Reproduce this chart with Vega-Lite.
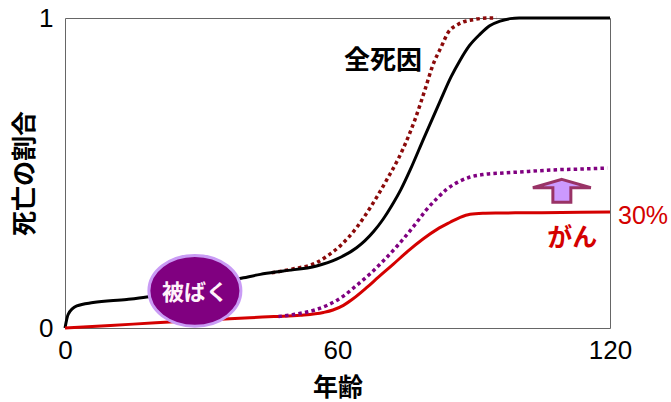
{
  "$schema": "https://vega.github.io/schema/vega-lite/v6.json",
  "autosize": "none",
  "width": 545,
  "height": 310,
  "padding": {"left": 65, "top": 18, "right": 61, "bottom": 74},
  "background": "white",
  "config": {
    "view": {"stroke": "#666666", "strokeWidth": 1},
    "axis": {"domain": false, "ticks": false, "grid": false, "labelFont": "Liberation Sans", "labelFontSize": 26, "labelColor": "#000000", "titleFont": "Noto Sans CJK JP", "titleFontSize": 25, "titleFontWeight": "bold", "titleColor": "#000000", "labelFlush": false}
  },
  "datasets": {
    "curves": [
      {"series": "全死因", "age": 0, "value": 0},
      {"series": "全死因", "age": 0.7, "value": 0.044},
      {"series": "全死因", "age": 2.6, "value": 0.071},
      {"series": "全死因", "age": 6.2, "value": 0.082},
      {"series": "全死因", "age": 13.6, "value": 0.092},
      {"series": "全死因", "age": 18, "value": 0.1},
      {"series": "全死因", "age": 25, "value": 0.12},
      {"series": "全死因", "age": 32, "value": 0.14},
      {"series": "全死因", "age": 39.3, "value": 0.162},
      {"series": "全死因", "age": 43, "value": 0.173},
      {"series": "全死因", "age": 48.1, "value": 0.184},
      {"series": "全死因", "age": 55.4, "value": 0.2},
      {"series": "全死因", "age": 59.8, "value": 0.222},
      {"series": "全死因", "age": 64.2, "value": 0.259},
      {"series": "全死因", "age": 66, "value": 0.281},
      {"series": "全死因", "age": 68, "value": 0.312},
      {"series": "全死因", "age": 70, "value": 0.35},
      {"series": "全死因", "age": 72, "value": 0.396},
      {"series": "全死因", "age": 74, "value": 0.448},
      {"series": "全死因", "age": 76, "value": 0.51},
      {"series": "全死因", "age": 79, "value": 0.612},
      {"series": "全死因", "age": 82.6, "value": 0.732},
      {"series": "全死因", "age": 85, "value": 0.81},
      {"series": "全死因", "age": 87, "value": 0.864},
      {"series": "全死因", "age": 89, "value": 0.91},
      {"series": "全死因", "age": 91.4, "value": 0.948},
      {"series": "全死因", "age": 93.5, "value": 0.975},
      {"series": "全死因", "age": 95.8, "value": 0.99},
      {"series": "全死因", "age": 98, "value": 0.998},
      {"series": "全死因", "age": 100, "value": 1.0},
      {"series": "全死因", "age": 110, "value": 1.0},
      {"series": "全死因", "age": 120, "value": 1.0},
      {"series": "全死因+被ばく", "age": 45.5, "value": 0.178},
      {"series": "全死因+被ばく", "age": 50, "value": 0.19},
      {"series": "全死因+被ばく", "age": 55.4, "value": 0.211},
      {"series": "全死因+被ばく", "age": 58, "value": 0.235},
      {"series": "全死因+被ばく", "age": 60.6, "value": 0.265},
      {"series": "全死因+被ばく", "age": 64.2, "value": 0.324},
      {"series": "全死因+被ばく", "age": 67.2, "value": 0.388},
      {"series": "全死因+被ばく", "age": 70.5, "value": 0.469},
      {"series": "全死因+被ばく", "age": 74.5, "value": 0.58},
      {"series": "全死因+被ばく", "age": 77, "value": 0.67},
      {"series": "全死因+被ばく", "age": 79.4, "value": 0.775},
      {"series": "全死因+被ばく", "age": 80.8, "value": 0.84},
      {"series": "全死因+被ばく", "age": 83.1, "value": 0.915},
      {"series": "全死因+被ばく", "age": 84.1, "value": 0.947},
      {"series": "全死因+被ばく", "age": 86.6, "value": 0.98},
      {"series": "全死因+被ばく", "age": 90, "value": 0.995},
      {"series": "全死因+被ばく", "age": 93.6, "value": 1.0},
      {"series": "全死因+被ばく", "age": 95, "value": 1.0},
      {"series": "がん+被ばく", "age": 47, "value": 0.037},
      {"series": "がん+被ばく", "age": 51, "value": 0.045},
      {"series": "がん+被ばく", "age": 55.4, "value": 0.06},
      {"series": "がん+被ばく", "age": 58, "value": 0.075},
      {"series": "がん+被ばく", "age": 61.3, "value": 0.103},
      {"series": "がん+被ばく", "age": 64, "value": 0.135},
      {"series": "がん+被ばく", "age": 67.2, "value": 0.175},
      {"series": "がん+被ばく", "age": 70, "value": 0.215},
      {"series": "がん+被ばく", "age": 73, "value": 0.262},
      {"series": "がん+被ばく", "age": 75, "value": 0.296},
      {"series": "がん+被ばく", "age": 77.4, "value": 0.34},
      {"series": "がん+被ばく", "age": 79.5, "value": 0.38},
      {"series": "がん+被ばく", "age": 81.9, "value": 0.418},
      {"series": "がん+被ばく", "age": 84, "value": 0.447},
      {"series": "がん+被ばく", "age": 87, "value": 0.474},
      {"series": "がん+被ばく", "age": 89.2, "value": 0.487},
      {"series": "がん+被ばく", "age": 92, "value": 0.495},
      {"series": "がん+被ばく", "age": 96.5, "value": 0.5},
      {"series": "がん+被ばく", "age": 102, "value": 0.505},
      {"series": "がん+被ばく", "age": 107.5, "value": 0.51},
      {"series": "がん+被ばく", "age": 114, "value": 0.513},
      {"series": "がん+被ばく", "age": 119.4, "value": 0.516},
      {"series": "がん", "age": 0, "value": 0},
      {"series": "がん", "age": 10, "value": 0.008},
      {"series": "がん", "age": 20, "value": 0.017},
      {"series": "がん", "age": 30, "value": 0.025},
      {"series": "がん", "age": 40.7, "value": 0.033},
      {"series": "がん", "age": 46, "value": 0.037},
      {"series": "がん", "age": 51.8, "value": 0.041},
      {"series": "がん", "age": 56.9, "value": 0.05},
      {"series": "がん", "age": 59, "value": 0.058},
      {"series": "がん", "age": 61.3, "value": 0.073},
      {"series": "がん", "age": 63.5, "value": 0.095},
      {"series": "がん", "age": 66.4, "value": 0.13},
      {"series": "がん", "age": 69, "value": 0.164},
      {"series": "がん", "age": 72.3, "value": 0.206},
      {"series": "がん", "age": 75.5, "value": 0.248},
      {"series": "がん", "age": 78.9, "value": 0.288},
      {"series": "がん", "age": 82, "value": 0.319},
      {"series": "がん", "age": 84.8, "value": 0.341},
      {"series": "がん", "age": 87, "value": 0.357},
      {"series": "がん", "age": 89.2, "value": 0.367},
      {"series": "がん", "age": 92, "value": 0.37},
      {"series": "がん", "age": 95.8, "value": 0.371},
      {"series": "がん", "age": 105, "value": 0.372},
      {"series": "がん", "age": 120, "value": 0.374}
    ],
    "notes": [
      {"key": "exposure", "label": "被ばく", "age": 28.6, "value": 0.12},
      {"key": "arrow", "label": "", "age": 109.4, "value": 0.442},
      {"key": "all", "label": "全死因", "age": 70.0, "value": 0.861},
      {"key": "cancer", "label": "がん", "age": 111.7, "value": 0.29},
      {"key": "pct", "label": "30%", "age": 120, "value": 0.361}
    ]
  },
  "encoding": {
    "x": {"field": "age", "type": "quantitative", "scale": {"domain": [0, 120], "nice": false, "zero": false}, "axis": {"values": [0, 60, 120], "format": "d", "title": "年齢", "labelPadding": 9, "titlePadding": 12}},
    "y": {"field": "value", "type": "quantitative", "scale": {"domain": [0, 1], "nice": false}, "axis": {"values": [0, 1], "format": "d", "title": "死亡の割合", "labelPadding": 12, "titlePadding": 1}}
  },
  "layer": [
    {
      "data": {"name": "curves"},
      "transform": [{"filter": "datum.series === '全死因+被ばく'"}],
      "mark": {"type": "line", "interpolate": "monotone", "color": "#8b0a0a", "strokeWidth": 3.5, "strokeDash": [3.5, 3.2], "strokeCap": "butt"}
    },
    {
      "data": {"name": "curves"},
      "transform": [{"filter": "datum.series === '全死因'"}],
      "mark": {"type": "line", "interpolate": "monotone", "color": "#000000", "strokeWidth": 3}
    },
    {
      "data": {"name": "curves"},
      "transform": [{"filter": "datum.series === 'がん'"}],
      "mark": {"type": "line", "interpolate": "monotone", "color": "#d40000", "strokeWidth": 3}
    },
    {
      "data": {"name": "curves"},
      "transform": [{"filter": "datum.series === 'がん+被ばく'"}],
      "mark": {"type": "line", "interpolate": "monotone", "color": "#800080", "strokeWidth": 3.5, "strokeDash": [3.5, 3.2], "strokeCap": "butt"}
    },
    {
      "data": {"name": "notes"},
      "transform": [{"filter": "datum.key === 'exposure'"}],
      "mark": {"type": "point", "shape": "M-1,0A1,0.77,0,1,1,1,0A1,0.77,0,1,1,-1,0Z", "size": 8464, "filled": true, "fill": "#800080", "stroke": "#c99bf5", "strokeWidth": 3, "opacity": 1}
    },
    {
      "data": {"name": "notes"},
      "transform": [{"filter": "datum.key === 'exposure'"}],
      "mark": {"type": "text", "font": "Noto Sans CJK JP", "fontWeight": "bold", "fontSize": 22, "color": "#fff2fa", "align": "center", "baseline": "middle", "dy": 2},
      "encoding": {"text": {"field": "label"}}
    },
    {
      "data": {"name": "notes"},
      "transform": [{"filter": "datum.key === 'arrow'"}],
      "mark": {"type": "point", "shape": "M0,-0.4L1,-0.11L0.31,-0.11L0.31,0.39L-0.31,0.39L-0.31,-0.11L-1,-0.11Z", "size": 3364, "filled": true, "fill": "#cc99ff", "stroke": "#993366", "strokeWidth": 3, "opacity": 1}
    },
    {
      "data": {"name": "notes"},
      "transform": [{"filter": "datum.key === 'all'"}],
      "mark": {"type": "text", "font": "Noto Sans CJK JP", "fontWeight": "bold", "fontSize": 26, "color": "#000000", "align": "center", "baseline": "middle"},
      "encoding": {"text": {"field": "label"}}
    },
    {
      "data": {"name": "notes"},
      "transform": [{"filter": "datum.key === 'cancer'"}],
      "mark": {"type": "text", "font": "Noto Sans CJK JP", "fontWeight": "bold", "fontSize": 25, "color": "#d40000", "align": "center", "baseline": "middle"},
      "encoding": {"text": {"field": "label"}}
    },
    {
      "data": {"name": "notes"},
      "transform": [{"filter": "datum.key === 'pct'"}],
      "mark": {"type": "text", "font": "Liberation Sans", "fontSize": 25, "color": "#d40000", "align": "left", "baseline": "middle", "dx": 8},
      "encoding": {"text": {"field": "label"}}
    }
  ]
}
